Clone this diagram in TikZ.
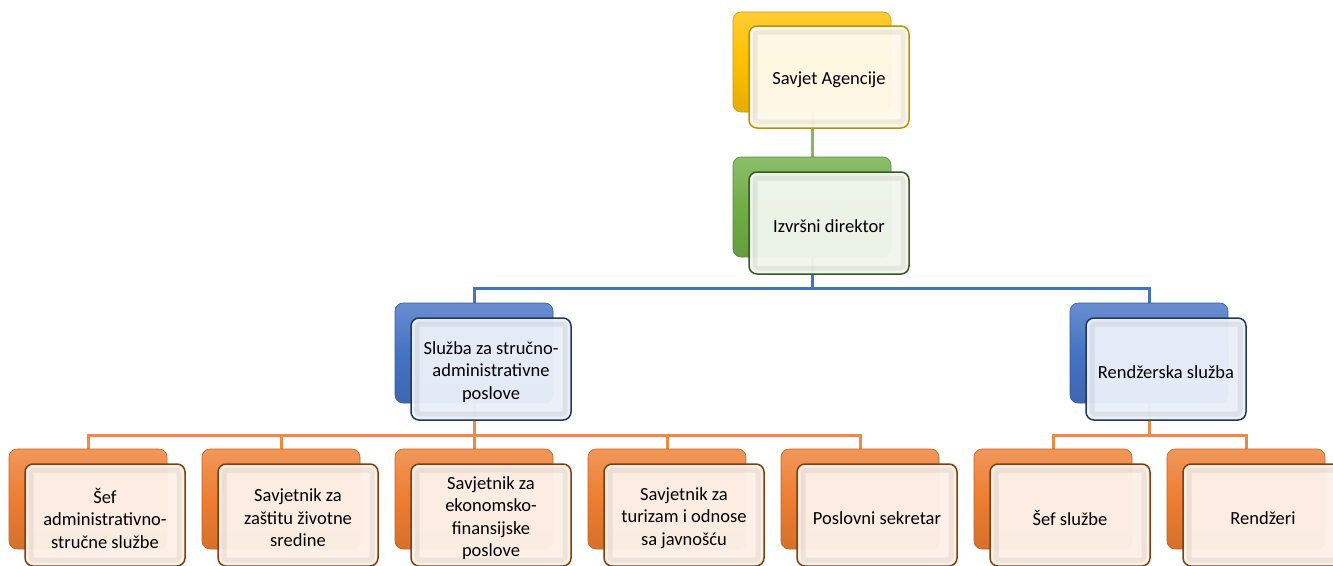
\documentclass[tikz,border=0pt]{standalone}
\usepackage{fontspec}
\setmainfont{Carlito}
\usetikzlibrary{backgrounds}
\definecolor{cgold}{HTML}{FFC000}
\definecolor{cgolddk}{HTML}{BF9000}
\definecolor{cgoldlt}{HTML}{FEF9EA}
\definecolor{cgreen}{HTML}{70AD47}
\definecolor{cgreendk}{HTML}{385723}
\definecolor{cgreenlt}{HTML}{F0F6EC}
\definecolor{cblue}{HTML}{4472C4}
\definecolor{cbluedk}{HTML}{203864}
\definecolor{cbluelt}{HTML}{EAEFF8}
\definecolor{corange}{HTML}{ED7D31}
\definecolor{corangedk}{HTML}{843C0C}
\definecolor{corangelt}{HTML}{FDF0E7}
\tikzset{
  bk/.style={rounded corners=8pt, minimum width=158pt, minimum height=100pt,
    inner sep=0pt, draw=#1!80!black, line width=0.6pt,
    top color=#1!80!white, bottom color=#1!90!black, middle color=#1},
  fr/.style={rounded corners=8pt, minimum width=160pt, minimum height=102pt,
    inner sep=0pt, draw=#1dk, fill=#1lt, fill opacity=0.97,
    line width=1.5pt,
    path picture={\draw[black, draw opacity=0.06, line width=5pt, rounded corners=3pt]
      ([shift={(6pt,-6pt)}]path picture bounding box.north west) rectangle
      ([shift={(-6pt,6pt)}]path picture bounding box.south east);}},
  txt/.style={align=center, inner sep=0pt, font=\fontsize{18.5}{22.5}\selectfont},
  ln/.style={line width=3pt, draw=#1},
}
\newcommand\frbox[4]{%
  \node[fr=#1] (#2) at (#3) {};
  \node[txt, yshift=-3pt] (#2t) at (#2.center) {#4};}
\begin{document}
\begin{tikzpicture}[x=1pt,y=-1pt]
\useasboundingbox (0,0) rectangle (1333,565);
% level 0
\node[bk=cgold] (b0) at (812,62) {};
\frbox{cgold}{f0}{829,77}{Savjet Agencije}
% level 1
\node[bk=cgreen] (b1) at (812,207) {};
\frbox{cgreen}{f1}{829,223}{Izvršni direktor}
% level 2
\node[bk=cblue] (b2a) at (474,353) {};
\frbox{cblue}{f2a}{491,369}{Služba za stručno-\\administrativne\\poslove}
\node[bk=cblue] (b2b) at (1149,353) {};
\frbox{cblue}{f2b}{1166,369}{Rendžerska služba}
% level 3
\node[bk=corange] (b3a) at (88,499) {};
\frbox{corange}{f3a}{105,515}{Šef\\administrativno-\\stručne službe}
\node[bk=corange] (b3b) at (281,499) {};
\frbox{corange}{f3b}{298,515}{Savjetnik za\\zaštitu životne\\sredine}
\node[bk=corange] (b3c) at (474,499) {};
\frbox{corange}{f3c}{491,515}{Savjetnik za\\ekonomsko-\\finansijske\\poslove}
\node[bk=corange] (b3d) at (667,499) {};
\frbox{corange}{f3d}{684,515}{Savjetnik za\\turizam i odnose\\sa javnošću}
\node[bk=corange] (b3e) at (860,499) {};
\frbox{corange}{f3e}{877,515}{Poslovni sekretar}
\node[bk=corange] (b3f) at (1053,499) {};
\frbox{corange}{f3f}{1070,515}{Šef službe}
\node[bk=corange] (b3g) at (1246,499) {};
\frbox{corange}{f3g}{1263,515}{Rendžeri}
% connectors
\coordinate (j1) at (812,288);
\coordinate (j2a) at (474,435);
\coordinate (j2b) at (1149,435);
\begin{pgfonlayer}{background}
\draw[ln=cgreen!85!white] (b0.south) -- (b1.north);
\draw[ln=cblue] (b1.south) -- (j1) -| (b2a.north);
\draw[ln=cblue] (j1) -| (b2b.north);
\draw[ln=corange!90!white] (b2a.south) -- (j2a);
\foreach \n in {b3a,b3b,b3c,b3d,b3e}
  \draw[ln=corange!90!white] (j2a) -| (\n.north);
\draw[ln=corange!90!white] (b2b.south) -- (j2b);
\foreach \n in {b3f,b3g}
  \draw[ln=corange!90!white] (j2b) -| (\n.north);
\end{pgfonlayer}
\end{tikzpicture}
\end{document}
